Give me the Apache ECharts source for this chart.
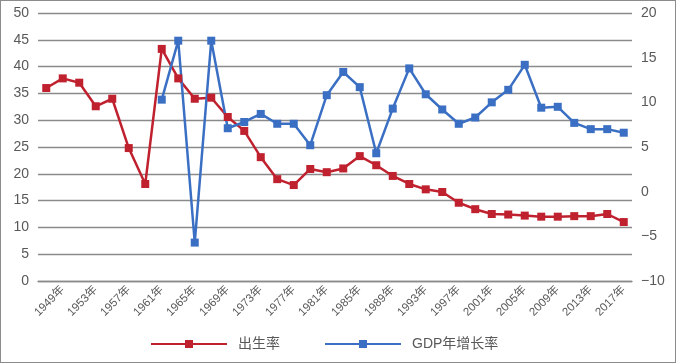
<!DOCTYPE html>
<html>
<head>
<meta charset="utf-8">
<script src="https://cdn.jsdelivr.net/npm/echarts@6/dist/echarts.min.js"></script>
<style>
html,body{margin:0;padding:0;background:#fff;}
#c{width:676px;height:363px;box-sizing:border-box;border:1px solid #8c8c8c;}
</style>
</head>
<body>
<div id="c"></div>
<script>
const categories = ['1947年','1949年','1951年','1953年','1955年','1957年','1959年','1961年','1963年','1965年',
  '1967年','1969年','1971年','1973年','1975年','1977年','1979年','1981年','1983年','1985年',
  '1987年','1989年','1991年','1993年','1995年','1997年','1999年','2001年','2003年','2005年',
  '2007年','2009年','2011年','2013年','2015年','2017年'];
const birthRate = [36.0,37.8,37.0,32.6,34.0,24.8,18.1,43.3,37.8,34.0,
  34.2,30.6,28.0,23.1,19.0,17.9,20.9,20.3,21.0,23.3,
  21.6,19.6,18.1,17.1,16.6,14.6,13.4,12.5,12.4,12.2,
  12.0,12.0,12.1,12.1,12.5,11.0];
const gdpGrowth = [null,null,null,null,null,null,null,10.3,16.9,-5.7,
  16.9,7.1,7.8,8.7,7.6,7.6,5.2,10.8,13.4,11.7,
  4.3,9.3,13.8,10.9,9.2,7.6,8.3,10.0,11.4,14.2,
  9.4,9.5,7.7,7.0,7.0,6.6];
const leftTicks = {min:0,max:50,interval:5};
const rightTicks = {min:-10,max:20,interval:5};

const FONT = "'Liberation Sans','Noto Sans CJK SC',sans-serif";
const TXT = '#595959';
const RED = '#C0212F';
const BLUE = '#3A6FC3';
const chart = echarts.init(document.getElementById('c'));
chart.setOption({
  animation:false,
  backgroundColor:'#fff',
  textStyle:{fontFamily:FONT},
  grid:{left:37,right:43,top:12,bottom:81,containLabel:false},
  legend:{
    top:336,left:149,padding:0,itemWidth:76,itemHeight:10,itemGap:44,
    textStyle:{fontFamily:FONT,fontSize:14,color:TXT,padding:[0,0,0,6]},
    data:['出生率','GDP年增长率']
  },
  xAxis:{
    type:'category',data:categories,boundaryGap:true,
    axisLine:{show:true,lineStyle:{color:'#8a8a8a',width:1.3}},
    axisTick:{show:false},
    axisLabel:{interval:(i)=>i%2===1,rotate:45,margin:7,fontSize:11.5,color:TXT,fontFamily:FONT}
  },
  yAxis:[
    {type:'value',min:leftTicks.min,max:leftTicks.max,interval:leftTicks.interval,
     axisLine:{show:false},axisTick:{show:false},
     splitLine:{show:true,lineStyle:{color:'#8a8a8a',width:1.3}},
     axisLabel:{fontSize:14,color:TXT,margin:9,fontFamily:FONT}},
    {type:'value',min:rightTicks.min,max:rightTicks.max,interval:rightTicks.interval,
     axisLine:{show:false},axisTick:{show:false},splitLine:{show:false},
     axisLabel:{fontSize:14,color:TXT,margin:9,fontFamily:FONT,
       formatter:(v)=>String(v).replace('-','−')}}
  ],
  series:[
    {name:'出生率',type:'line',yAxisIndex:0,data:birthRate,
     symbol:'rect',symbolSize:8,
     lineStyle:{color:RED,width:2.5},itemStyle:{color:RED}},
    {name:'GDP年增长率',type:'line',yAxisIndex:1,data:gdpGrowth,
     symbol:'rect',symbolSize:8,connectNulls:false,
     lineStyle:{color:BLUE,width:2.5},itemStyle:{color:BLUE}}
  ]
});
</script>
</body>
</html>
